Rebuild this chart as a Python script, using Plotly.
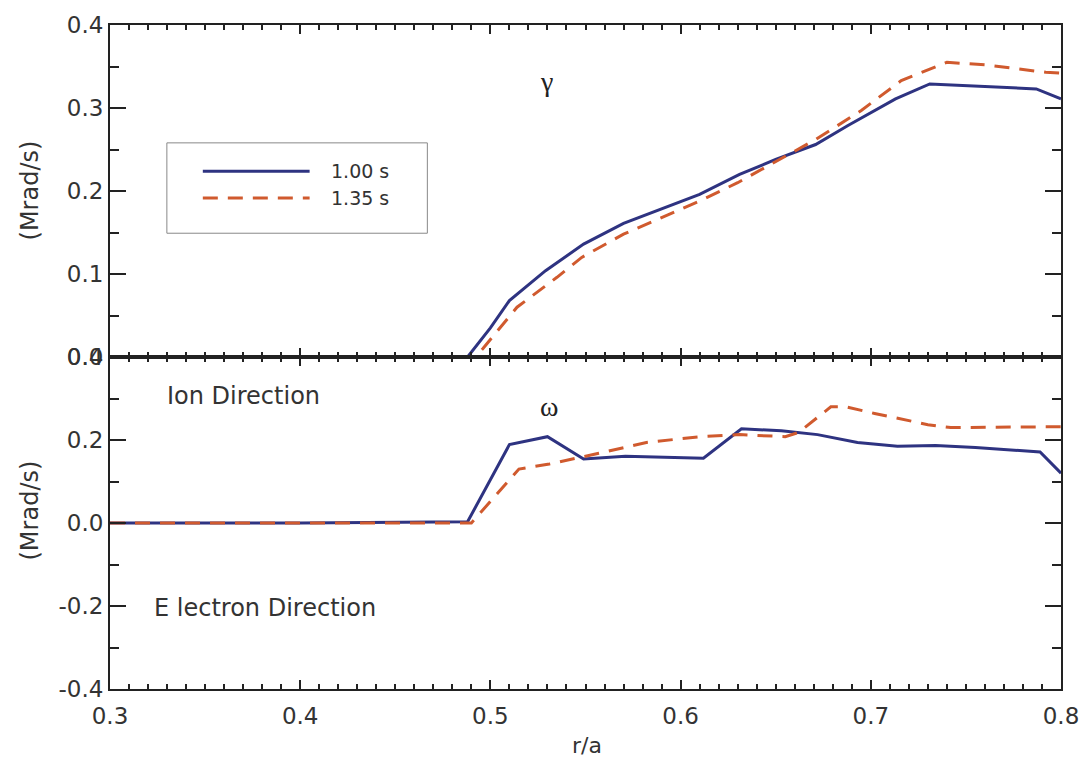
import plotly.graph_objects as go
from plotly.subplots import make_subplots

# Growth rate gamma (Mrad/s) vs normalized radius r/a
r_gamma_100 = [0.30, 0.40, 0.488, 0.500, 0.510, 0.529, 0.549, 0.570, 0.591, 0.610,
               0.631, 0.650, 0.671, 0.688, 0.713, 0.731, 0.787, 0.800]
gamma_100 = [0.0, 0.0, 0.0, 0.035, 0.068, 0.104, 0.136, 0.161, 0.179, 0.196,
             0.220, 0.238, 0.256, 0.279, 0.311, 0.329, 0.323, 0.311]

r_gamma_135 = [0.30, 0.40, 0.492, 0.496, 0.514, 0.535, 0.548, 0.570, 0.590, 0.610,
               0.630, 0.650, 0.671, 0.695, 0.716, 0.740, 0.760, 0.792, 0.800]
gamma_135 = [0.0, 0.0, 0.0, 0.010, 0.060, 0.096, 0.120, 0.148, 0.168, 0.188,
             0.210, 0.235, 0.262, 0.297, 0.333, 0.355, 0.352, 0.343, 0.342]

# Real frequency omega (Mrad/s)
r_omega_100 = [0.30, 0.40, 0.488, 0.510, 0.530, 0.549, 0.571, 0.612, 0.632, 0.653,
               0.672, 0.693, 0.714, 0.734, 0.755, 0.789, 0.800]
omega_100 = [0.0, 0.0, 0.003, 0.189, 0.208, 0.154, 0.161, 0.156, 0.227, 0.222,
             0.213, 0.194, 0.185, 0.187, 0.182, 0.171, 0.120]

r_omega_135 = [0.30, 0.40, 0.490, 0.515, 0.531, 0.557, 0.582, 0.610, 0.631, 0.655,
               0.662, 0.679, 0.687, 0.702, 0.730, 0.742, 0.800]
omega_135 = [0.0, 0.0, 0.0, 0.130, 0.142, 0.168, 0.194, 0.208, 0.213, 0.208,
             0.218, 0.280, 0.280, 0.264, 0.237, 0.230, 0.232]

series_names = ["1.00 s", "1.35 s"]

x_ticks = [0.3, 0.4, 0.5, 0.6, 0.7, 0.8]
x_ticktext = ["0.3", "0.4", "0.5", "0.6", "0.7", "0.8"]
gamma_ticks = [0.0, 0.1, 0.2, 0.3, 0.4]
gamma_ticktext = ["0.0", "0.1", "0.2", "0.3", "0.4"]
omega_ticks = [-0.4, -0.2, 0.0, 0.2, 0.4]
omega_ticktext = ["-0.4", "-0.2", "0.0", "0.2", "0.4"]

NAVY = "#2e3381"
ORANGE = "#d05a2e"
INK = "#222222"
TEXT = "#333333"
FONT = "DejaVu Sans"
DASH = "15px,10px"

fig = make_subplots(rows=2, cols=1, shared_xaxes=True, vertical_spacing=0)

fig.add_trace(go.Scatter(x=r_gamma_100, y=gamma_100, mode="lines", name=series_names[0],
                         showlegend=False, line=dict(color=NAVY, width=3)), row=1, col=1)
fig.add_trace(go.Scatter(x=r_gamma_135, y=gamma_135, mode="lines", name=series_names[1],
                         showlegend=False, line=dict(color=ORANGE, width=3, dash=DASH)),
              row=1, col=1)
fig.add_trace(go.Scatter(x=r_omega_100, y=omega_100, mode="lines", name=series_names[0],
                         showlegend=False, line=dict(color=NAVY, width=3)), row=2, col=1)
fig.add_trace(go.Scatter(x=r_omega_135, y=omega_135, mode="lines", name=series_names[1],
                         showlegend=False, line=dict(color=ORANGE, width=3, dash=DASH)),
              row=2, col=1)

tick_font = dict(family=FONT, size=23, color=TEXT)

fig.update_xaxes(range=[0.3, 0.8], tickvals=x_ticks, ticktext=x_ticktext,
                 ticks="inside", ticklen=9, tickwidth=1.5, tickcolor=INK,
                 showline=True, linecolor=INK, linewidth=2, mirror="ticks",
                 showgrid=False, zeroline=False, ticklabelstandoff=5,
                 minor=dict(dtick=0.01, tick0=0.3, ticks="inside", ticklen=5,
                            tickcolor=INK, tickwidth=1.5, showgrid=False),
                 tickfont=tick_font)
fig.update_xaxes(showticklabels=False, row=1, col=1)

fig.update_yaxes(ticks="inside", ticklen=16, tickwidth=1.5, tickcolor=INK,
                 showline=True, linecolor=INK, linewidth=2, mirror="ticks",
                 showgrid=False, zeroline=False, tickfont=tick_font)
fig.update_yaxes(range=[0, 0.4], tickvals=gamma_ticks, ticktext=gamma_ticktext,
                 minor=dict(dtick=0.05, tick0=0, ticks="inside", ticklen=9,
                            tickcolor=INK, tickwidth=1.5, showgrid=False),
                 row=1, col=1)
fig.update_yaxes(range=[-0.4, 0.4], tickvals=omega_ticks, ticktext=omega_ticktext,
                 minor=dict(dtick=0.1, tick0=0, ticks="inside", ticklen=9,
                            tickcolor=INK, tickwidth=1.5, showgrid=False),
                 row=2, col=1)

# Axis titles
label_font = dict(family=FONT, size=24, color=TEXT)
for ty in (0.751, 0.269):
    fig.add_annotation(text="(Mrad/s)", xref="paper", yref="paper", x=-0.084, y=ty,
                       xanchor="center", yanchor="middle", textangle=-90,
                       showarrow=False, font=label_font)
fig.add_annotation(text="r/a", xref="paper", yref="paper", x=0.5016, y=-0.0858,
                   xanchor="center", yanchor="middle", showarrow=False,
                   font=dict(family=FONT, size=22, color=TEXT))

# Panel labels
greek_font = dict(family="Liberation Serif", size=28, color=INK)
fig.add_annotation(text="γ", x=0.5293, y=0.332, xref="x", yref="y", showarrow=False,
                   font=greek_font)
fig.add_annotation(text="ω", x=0.5309, y=0.281, xref="x2", yref="y2", showarrow=False,
                   font=greek_font)
note_font = dict(family=FONT, size=24, color=TEXT)
fig.add_annotation(text="Ion Direction", x=0.3289, y=0.305, xref="x2", yref="y2",
                   xanchor="left", yanchor="middle", showarrow=False, font=note_font)
fig.add_annotation(text="E lectron Direction", x=0.322, y=-0.206, xref="x2", yref="y2",
                   xanchor="left", yanchor="middle", showarrow=False, font=note_font)

# Legend box with line samples
fig.add_shape(type="rect", xref="paper", yref="paper", x0=0.0598, x1=0.3337,
              y0=0.6864, y1=0.8225, line=dict(color="#888888", width=1),
              fillcolor="white", layer="above")
legend_rows = [(0.7796, NAVY, "solid"), (0.7396, ORANGE, DASH)]
for name, (ly, color, dash) in zip(series_names, legend_rows):
    fig.add_shape(type="line", xref="paper", yref="paper", x0=0.0976, x1=0.2099,
                  y0=ly, y1=ly, line=dict(color=color, width=3, dash=dash))
    fig.add_annotation(text=name, xref="paper", yref="paper", x=0.2308, y=ly,
                       xanchor="left", yanchor="middle", showarrow=False,
                       font=dict(family=FONT, size=19, color=TEXT))

fig.update_layout(
    width=1091, height=759,
    margin=dict(l=110, r=28, t=13, b=70),
    plot_bgcolor="white", paper_bgcolor="white",
    showlegend=False,
)

fig.write_html("out.html")
